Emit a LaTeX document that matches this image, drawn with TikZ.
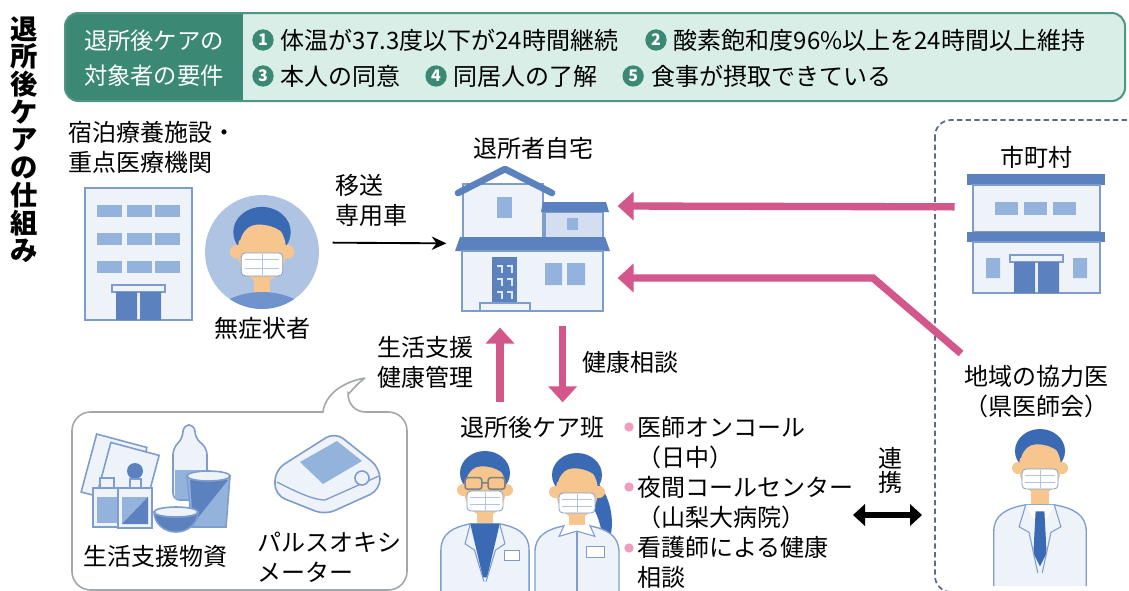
\documentclass[tikz,border=0pt]{standalone}
\usepackage{fontspec}
\setmainfont{Noto Sans CJK JP}
\usetikzlibrary{arrows.meta,positioning,shapes}

\definecolor{hdgreen}{HTML}{3B8874}
\definecolor{hdlight}{HTML}{D8EEE6}
\definecolor{hdline}{HTML}{4E9582}
\definecolor{bldline}{HTML}{7F9DCC}
\definecolor{bldfill}{HTML}{EEF3FA}
\definecolor{annex}{HTML}{D3DEF0}
\definecolor{winblue}{HTML}{94B3DC}
\definecolor{deepblue}{HTML}{5B82BF}
\definecolor{hair}{HTML}{3A6AB4}
\definecolor{skin}{HTML}{F7C68E}
\definecolor{ringblue}{HTML}{AFC4E2}
\definecolor{shirtblue}{HTML}{6F93CC}
\definecolor{careline}{HTML}{D4578B}
\definecolor{dotpink}{HTML}{EE9DBD}
\definecolor{dashgray}{HTML}{5B6B8C}
\definecolor{bubblegray}{HTML}{A3A7AD}

\tikzstyle{lbl} = [font=\fontsize{18}{22.5}\selectfont, inner sep=0pt, align=center]
\tikzstyle{hdtxt} = [font=\fontsize{18}{21}\selectfont, inner sep=0pt, anchor=west]
\tikzstyle{numdot} = [circle, fill=hdgreen, text=white, inner sep=0pt, minimum size=16pt, font=\fontsize{12}{12}\selectfont\bfseries]
\tikzstyle{box} = [inner sep=0pt, minimum width=#1]
\tikzstyle{care} = [careline, line width=5.5pt, -{Triangle[length=12pt,width=21pt]}]
\tikzstyle{move} = [black, line width=1.4pt, -{Stealth[length=11pt,width=10pt]}]
\tikzstyle{link} = [black, line width=4pt, {Triangle[length=9pt,width=16pt]}-{Triangle[length=9pt,width=16pt]}]
\tikzstyle{bld} = [draw=bldline, fill=bldfill, line width=1.2pt]
\tikzstyle{win} = [fill=winblue]
\tikzstyle{bullet} = [circle, fill=dotpink, inner sep=0pt, minimum size=7pt]

% head with a face mask, centred on the face
\tikzset{
  pics/maskhead/.style={code={
    \fill[hair] (0,-12) ellipse [x radius=25, y radius=22];
    \fill[skin] (-22,5) circle [radius=6];
    \fill[skin] (22,5) circle [radius=6];
    \fill[skin] (0,4) ellipse [x radius=21, y radius=27];
    \fill[hair] (-22,-5) .. controls (-24,-36) and (24,-38) .. (22,-5)
      -- (19,-11) .. controls (10,-19) and (-6,-21) .. (-12,-16)
      .. controls (-16,-13) and (-18,-9) .. (-19,-5) -- cycle;
    \draw[bldline, fill=white, rounded corners=3pt, line width=0.6pt] (-18,6) rectangle (18,26);
    \draw[bldline!60, line width=0.5pt] (-15,12) -- (15,12) (-15,19) -- (15,19) (0,7) -- (0,25);
  }}
}

\begin{document}
\begin{tikzpicture}[x=0.75pt, y=-0.75pt]
\useasboundingbox (0,0) rectangle (1129,590);
\clip (0,0) rectangle (1129,590);
\fill[white] (0,0) rectangle (1129,590);

% title and requirements
\node (title) [font=\fontsize{20.5}{20.8}\selectfont\bfseries, align=center, anchor=north, inner sep=0pt] at (24,16) {退\\所\\後\\ケ\\ア\\の\\仕\\組\\み};

\begin{scope}
  \clip[rounded corners=10pt] (65,13) rectangle (1125,101);
  \fill[hdlight] (65,13) rectangle (1125,101);
  \fill[hdgreen] (65,13) rectangle (243,101);
\end{scope}
\draw[hdline, line width=1.5pt, rounded corners=10pt] (65,13) rectangle (1125,101);
\node (req) [lbl, text=white, font=\fontsize{17.5}{26}\selectfont] at (154,58) {退所後ケアの\\対象者の要件};

\node (n1) [numdot] at (263,40) {1};
\node (t1) [hdtxt, right=5pt of n1] {体温が37.3度以下が24時間継続};
\node (n2) [numdot, right=20pt of t1] {2};
\node (t2) [hdtxt, right=5pt of n2] {酸素飽和度96\%以上を24時間以上維持};
\node (n3) [numdot] at (263,76) {3};
\node (t3) [hdtxt, right=5pt of n3] {本人の同意};
\node (n4) [numdot, right=18pt of t3] {4};
\node (t4) [hdtxt, right=5pt of n4] {同居人の了解};
\node (n5) [numdot, right=18pt of t4] {5};
\node (t5) [hdtxt, right=5pt of n5] {食事が摂取できている};

% lodging facility and patient
\node (facil) [lbl, align=left, anchor=west] at (68,147) {宿泊療養施設・\\重点医療機関};
\node (hosp) [box=80pt, minimum height=99pt] at (138.5,254) {};
\draw[bld] (hosp.north west) rectangle (hosp.south east);
\foreach \r in {205,233,261}
  \foreach \c in {97,127,155}
    \fill[win] (\c,\r) rectangle +(25,12);
\draw[bld] (112,285) rectangle (165,292);
\fill[deepblue] (116,292) rectangle (137,320) (140,292) rectangle (161,320);

\node (pat) [circle, fill=ringblue, minimum size=85.5pt, inner sep=0pt] at (262,252) {};
\begin{scope}
  \clip (262,252) circle [radius=57];
  \fill[skin] (254,270) rectangle (270,298);
  \fill[shirtblue] (262,322) ellipse [x radius=50, y radius=30];
  \pic[scale=1.15] at (262,246) {maskhead};
\end{scope}
\node (patl) [lbl] at (262,328) {無症状者};

\node (carl) [lbl, align=left, anchor=west] at (335,200) {移送\\専用車};

% home
\node (home) [box=116pt, minimum height=110pt] at (532,238) {};
\node (homel) [lbl] at (533,148) {退所者自宅};
\draw[bld] (463,184) rectangle (543,240);
\draw[deepblue, line width=5pt, line cap=round, line join=round] (458,193) -- (505,169) -- (552,193);
\fill[win] (497,197) rectangle (512,218);
\draw[bld, fill=annex] (545,212) rectangle (603,240);
\fill[deepblue] (543,202) -- (606,202) -- (609,212) -- (541,212) -- cycle;
\fill[win] (567,218) rectangle (578,230);
\fill[deepblue] (460,237) -- (605,237) -- (610,251) -- (455,251) -- cycle;
\draw[bld] (462,251) rectangle (603,311);
\fill[deepblue] (492,257) rectangle (517,303);
\draw[white!80!deepblue, line width=0.8pt] (497,266) -- (502,266) -- (502,273) (507,266) -- (512,266) -- (512,273)
  (497,279) -- (502,279) -- (502,286) (507,279) -- (512,279) -- (512,286)
  (497,292) -- (502,292) -- (502,299) (507,292) -- (512,292) -- (512,299);
\draw[bld] (480,303) rectangle (530,311);
\fill[win] (545,263) rectangle (562,285) (567,263) rectangle (585,285);

% municipality and local doctor
\draw[dashgray, line width=1.3pt, dash pattern=on 4pt off 2.5pt, rounded corners=12pt] (935,120) rectangle (1145,592);
\node (cityl) [lbl] at (1036,157) {市町村};
\node (city) [box=103.5pt, minimum height=89pt] at (1036,233.5) {};
\fill[deepblue] (967,174) rectangle (1105,185);
\draw[bld] (973,185) rectangle (1100,232);
\foreach \c in {995,1024,1053}
  \fill[win] (\c,202) rectangle +(23,13);
\fill[deepblue] (967,232) rectangle (1105,242);
\draw[bld] (973,242) rectangle (1100,293);
\fill[win] (986,258) rectangle (1000,278) (1073,258) rectangle (1087,278);
\draw[bld] (1010,255) rectangle (1063,262);
\fill[deepblue] (1014,262) rectangle (1035,293) (1038,262) rectangle (1059,293);

\node (drl) [lbl] at (1036,392) {地域の協力医\\（県医師会）};
\node (dr) [box=72pt, minimum height=110pt] at (1040,503) {};
\begin{scope}[shift={(1040,463)}, scale=1.1]
  \fill[skin] (-8,22) rectangle (8,42);
  \draw[bldline, fill=bldfill, line width=1pt] (-42,112) -- (-42,62) .. controls (-42,47) and (-30,41) .. (-13,38)
    -- (13,38) .. controls (30,41) and (42,47) .. (42,62) -- (42,112);
  \fill[white] (-13,38) -- (0,62) -- (13,38) -- cycle;
  \fill[hair] (-4,44) -- (4,44) -- (6,82) -- (0,94) -- (-6,82) -- cycle;
  \draw[bldline, line width=0.8pt] (-13,38) -- (-19,58) -- (-10,63) -- (-2,100)
    (13,38) -- (19,58) -- (10,63) -- (2,100);
  \pic at (0,0) {maskhead};
\end{scope}

% care team
\node (team) [lbl] at (532,427) {退所後ケア班};
\node (supl) [lbl, align=right, anchor=east] at (474,362) {生活支援\\健康管理};
\node (askl) [lbl, align=left, anchor=west] at (582,362) {健康相談};

\begin{scope}[shift={(485,485)}, scale=1.05]
  \fill[skin] (-8,22) rectangle (8,42);
  \draw[bldline, fill=bldfill, line width=1pt] (-42,112) -- (-42,62) .. controls (-42,46) and (-30,40) .. (-14,37)
    -- (14,37) .. controls (30,40) and (42,46) .. (42,62) -- (42,112);
  \fill[hair] (-14,37) -- (14,37) -- (2,88) -- (-2,88) -- cycle;
  \draw[bldline, line width=0.8pt] (-14,37) -- (-19,56) -- (-10,62) -- (-1,92)
    (14,37) -- (19,56) -- (10,62) -- (1,92);
  \draw[bldline, fill=white] (18,62) rectangle (33,72);
  \pic at (0,0) {maskhead};
  \draw[gray, line width=1.2pt, rounded corners=2pt] (-19,-7) rectangle (-3,4) (3,-7) rectangle (19,4) (-3,-2) -- (3,-2);
\end{scope}
\begin{scope}[shift={(577,487)}, scale=1.05]
  \fill[hair] (20,-4) .. controls (38,18) and (36,50) .. (24,64) .. controls (26,42) and (20,26) .. (12,14) -- cycle;
  \fill[skin] (-8,22) rectangle (8,42);
  \draw[bldline, fill=bldfill, line width=1pt] (-40,112) -- (-40,62) .. controls (-40,46) and (-28,40) .. (-12,37)
    -- (12,37) .. controls (28,40) and (40,46) .. (40,62) -- (40,112);
  \draw[bldline, fill=white, line width=0.8pt] (-12,36) -- (-17,47) -- (0,42) -- (17,47) -- (12,36);
  \draw[bldline, line width=0.8pt] (0,42) -- (0,112);
  \draw[bldline, fill=white] (9,56) rectangle (26,67);
  \pic at (0,0) {maskhead};
\end{scope}

\foreach \y in {427,487,548}
  \node[bullet] at (629,\y) {};
\node (tips) [lbl, align=left, anchor=west] at (637,502) {医師オンコール\\（日中）\\夜間コールセンター\\（山梨大病院）\\看護師による健康\\相談};
\node (lnk) [lbl, font=\fontsize{18}{18}\selectfont] at (890,470) {連\\携};
\coordinate (lkL) at (853,515);
\coordinate (lkR) at (922,515);

% supplies bubble
\draw[bubblegray, line width=1.2pt] (365,378) .. controls (342,382) and (325,395) .. (323,412)
  [rounded corners=14pt] -- (72,412) -- (72,590) -- (407,590) -- (407,412) -- (347,412)
  [sharp corners] .. controls (348,396) and (355,385) .. (365,378);
\draw[bld, rotate around={-15:(115,470)}] (88,440) rectangle (140,500);
\draw[bld, rotate around={-15:(128,475)}] (103,448) rectangle (153,505);
\fill[deepblue] (135,471) circle [radius=8];
\draw[bld] (100,478) rectangle (114,488);
\draw[bld] (93,488) rectangle (122,527);
\fill[winblue] (97,497) rectangle (118,523);
\draw[bld] (130,479) rectangle (141,488);
\draw[bld] (118,488) rectangle (152,528);
\fill[winblue] (122,497) rectangle (148,524);
\fill[deepblue] (122,524) -- (148,497) -- (148,524) -- cycle;
\draw[bld, rounded corners=5pt] (173,500) -- (173,448) -- (183,438) -- (183,425) -- (195,425) -- (195,438) -- (207,448) -- (207,500) -- cycle;
\fill[winblue] (174.5,470) rectangle (205.5,498.5);
\draw[bld, fill=winblue] (187,476) -- (230,476) -- (226,527) -- (192,527) -- cycle;
\fill[deepblue] (190,480) -- (228,480) -- (193,524) -- cycle;
\draw[bld] (208.5,476) ellipse [x radius=21.5, y radius=5];
\draw[bld, fill=deepblue] (154,512) arc [start angle=180, end angle=0, x radius=22, y radius=20] -- cycle;
\draw[bld] (176,512) ellipse [x radius=22, y radius=5];
\node (goodsl) [lbl] at (155,556) {生活支援物資};

\draw[bld, rounded corners=8pt] (275,470) -- (335,432) -- (380,468) -- (380,490) -- (325,515) -- (275,495) -- cycle;
\fill[winblue] (300,462) -- (337,441) -- (362,461) -- (323,484) -- cycle;
\draw[bldline, line width=1pt] (277,482) .. controls (300,494) and (315,500) .. (325,500) -- (379,476);
\draw[bld] (362,478) circle [radius=7];
\node (oxil) [lbl, align=left, anchor=west] at (257,557) {パルスオキシ\\メーター};

% connectors
\draw[move] ([xshift=10pt,yshift=7pt]pat.east) -- ([xshift=-6pt,yshift=-4pt]home.west);
\draw[care] ([xshift=-9pt,yshift=20pt]city.west) -- ([xshift=6pt,yshift=24pt]home.east);
\coordinate (bend) at (873,278);
\draw[care] ([shift={(-2pt,9pt)}]drl.north west) -- (bend) -- ([xshift=6pt,yshift=-30pt]home.east);
\draw[care] ([xshift=-24pt,yshift=10pt]team.north) -- ([xshift=-24pt,yshift=-12pt]home.south);
\draw[care] ([xshift=23pt,yshift=-11pt]home.south) -- ([xshift=23pt,yshift=10pt]team.north);
\draw[link] (lkL) -- (lkR);
\end{tikzpicture}
\end{document}
